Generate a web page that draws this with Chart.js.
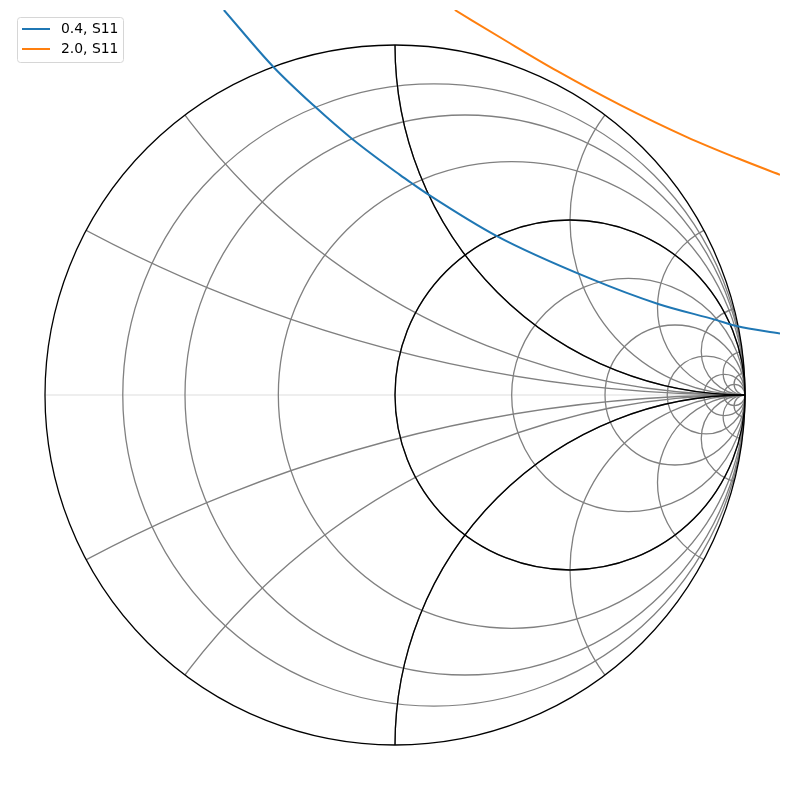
<!DOCTYPE html>
<html><head><meta charset="utf-8">
<script src="https://cdn.jsdelivr.net/npm/chart.js@4"></script>
<style>html,body{margin:0;padding:0;background:#fff}canvas{display:block}</style>
</head><body>
<canvas id="c" width="790" height="790"></canvas>
<script>
// Series labels / colours
const seriesLabels = ['0.4, S11', '2.0, S11'];
const seriesColors = ['#1f77b4', '#ff7f0e'];

const s04Re = [-0.489, -0.348, -0.229, -0.124, 0.014, 0.048, 0.095, 0.291, 0.557, 0.752, 0.919, 0.976, 1.100];
const s04Im = [ 1.100,  0.938,  0.824,  0.733, 0.629, 0.605, 0.573, 0.454, 0.333, 0.260, 0.214, 0.197, 0.176];
const s20Re = [0.171, 0.320, 0.463, 0.643, 0.834, 0.977, 1.100];
const s20Im = [1.100, 1.010, 0.926, 0.829, 0.737, 0.677, 0.629];

// Smith chart grid values
const rLight = [0.125, 0.25, 0.5, 1, 2, 4, 8, 16, 32];
const xLight = [0.25, 0.5, 1, 2, 4, 8, 16, 32, -0.25, -0.5, -1, -2, -4, -8, -16, -32];
const rHeavy = [0, 1];
const xHeavy = [1, -1];

const toPts = (re, im) => re.map((v, i) => ({x: v, y: im[i]}));

const smithGrid = {
  id: 'smithGrid',
  beforeDatasetsDraw(chart) {
    const {ctx, chartArea: a, scales: {x, y}} = chart;
    const px = v => x.getPixelForValue(v);
    const py = v => y.getPixelForValue(v);
    const unit = px(1) - px(0);
    ctx.save();
    ctx.beginPath(); ctx.rect(a.left, a.top, a.right - a.left, a.bottom - a.top); ctx.clip();
    // real axis
    ctx.strokeStyle = '#e8e8e8'; ctx.lineWidth = 1.5;
    ctx.beginPath(); ctx.moveTo(px(-1), py(0)); ctx.lineTo(px(1), py(0)); ctx.stroke();
    const rCircle = (r, col) => {
      ctx.strokeStyle = col; ctx.lineWidth = 1.3;
      ctx.beginPath(); ctx.arc(px(r / (1 + r)), py(0), unit / (1 + r), 0, Math.PI * 2); ctx.stroke();
    };
    const xCircle = (xv, col) => {
      ctx.save();
      ctx.beginPath(); ctx.arc(px(0), py(0), unit, 0, Math.PI * 2); ctx.clip();
      ctx.strokeStyle = col; ctx.lineWidth = 1.3;
      ctx.beginPath(); ctx.arc(px(1), py(1 / xv), unit / Math.abs(xv), 0, Math.PI * 2); ctx.stroke();
      ctx.restore();
    };
    rLight.forEach(r => rCircle(r, '#808080'));
    xLight.forEach(v => xCircle(v, '#808080'));
    rHeavy.forEach(r => rCircle(r, '#000000'));
    xHeavy.forEach(v => xCircle(v, '#000000'));
    ctx.restore();
  }
};

const mplLegend = {
  id: 'mplLegend',
  afterDraw(chart) {
    const ctx = chart.ctx;
    ctx.save();
    const bx = 17.5, by = 17.5, bw = 106, bh = 45, rad = 3;
    ctx.beginPath();
    ctx.moveTo(bx + rad, by);
    ctx.arcTo(bx + bw, by, bx + bw, by + bh, rad);
    ctx.arcTo(bx + bw, by + bh, bx, by + bh, rad);
    ctx.arcTo(bx, by + bh, bx, by, rad);
    ctx.arcTo(bx, by, bx + bw, by, rad);
    ctx.closePath();
    ctx.fillStyle = 'rgba(255,255,255,0.8)'; ctx.fill();
    ctx.strokeStyle = '#d6d6d6'; ctx.lineWidth = 1; ctx.stroke();
    ctx.font = '13.9px "DejaVu Sans"';
    ctx.textBaseline = 'middle';
    chart.data.datasets.forEach((ds, i) => {
      const yy = 29 + i * 20;
      ctx.strokeStyle = ds.borderColor; ctx.lineWidth = 2;
      ctx.beginPath(); ctx.moveTo(22, yy); ctx.lineTo(50, yy); ctx.stroke();
      ctx.fillStyle = '#000'; ctx.fillText(ds.label, 61, yy + 0.5);
    });
    ctx.restore();
  }
};

new Chart(document.getElementById('c'), {
  type: 'scatter',
  data: {
    datasets: [
      {label: seriesLabels[0], data: toPts(s04Re, s04Im), borderColor: seriesColors[0]},
      {label: seriesLabels[1], data: toPts(s20Re, s20Im), borderColor: seriesColors[1]}
    ].map(d => Object.assign(d, {showLine: true, pointRadius: 0, borderWidth: 2, cubicInterpolationMode: 'monotone', fill: false}))
  },
  options: {
    responsive: false, animation: false, devicePixelRatio: 1,
    layout: {padding: {left: 10, right: 10, top: 10, bottom: 10}},
    scales: {
      x: {type: 'linear', min: -1.1, max: 1.1, display: false},
      y: {type: 'linear', min: -1.1, max: 1.1, display: false}
    },
    plugins: {legend: {display: false}, tooltip: {enabled: false}}
  },
  plugins: [smithGrid, mplLegend]
});
</script>
</body></html>
